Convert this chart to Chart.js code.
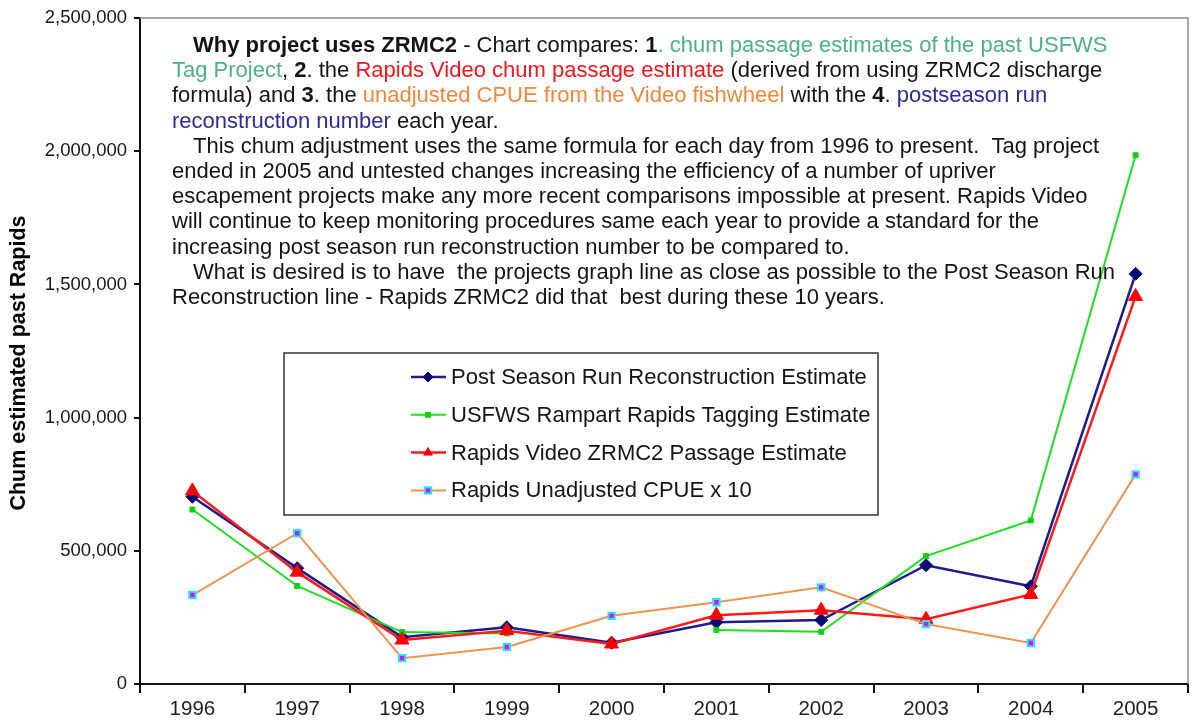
<!DOCTYPE html>
<html>
<head>
<meta charset="utf-8">
<script src="https://cdn.jsdelivr.net/npm/chart.js@4.4.1/dist/chart.umd.min.js"></script>
<style>
  body { margin: 0; background: #fff; }
  canvas { display: block; }
</style>
</head>
<body>
<canvas id="chumChart" width="1192" height="725"></canvas>
<script>
// chart values
var years = ['1996', '1997', '1998', '1999', '2000', '2001', '2002', '2003', '2004', '2005'];
var postSeason = [703000, 435000, 176000, 213000, 155000, 232000, 240000, 446000, 367000, 1540000];
var usfwsTagging = [655000, 368000, 195000, 190000, null, 203000, 196000, 480000, 614000, 1985000];
var videoZrmc2 = [725000, 420000, 165000, 200000, 150000, 258000, 277000, 243000, 336000, 1455000];
var cpueX10 = [334000, 566000, 97000, 139000, 256000, 307000, 363000, 225000, 154000, 787000];
var yMax = 2500000;
var yStep = 500000;

var seriesNames = [
    'Post Season Run Reconstruction Estimate',
    'USFWS Rampart Rapids Tagging Estimate',
    'Rapids Video ZRMC2 Passage Estimate',
    'Rapids Unadjusted CPUE x 10'
];
var yTitle = 'Chum estimated past Rapids';

// note text in the top of the plot, split in coloured runs
var noteColors = { '': '#141414', b: '#141414', g: '#4cb08a', r: '#f5141e', o: '#f0873a', n: '#2e2a9c' };
var noteLines = [
    [['Why project uses ZRMC2', 'b'], [' - Chart compares: ', ''], ['1', 'b'], ['. chum passage estimates of the past USFWS', 'g']],
    [['Tag Project', 'g'], [', ', ''], ['2', 'b'], ['. the ', ''], ['Rapids Video chum passage estimate', 'r'], [' (derived from using ZRMC2 discharge', '']],
    [['formula) and ', ''], ['3', 'b'], ['. the ', ''], ['unadjusted CPUE from the Video fishwheel', 'o'], [' with the ', ''], ['4', 'b'], ['. ', ''], ['postseason run', 'n']],
    [['reconstruction number', 'n'], [' each year.', '']],
    [['This chum adjustment uses the same formula for each day from 1996 to present.  Tag project', '']],
    [['ended in 2005 and untested changes increasing the efficiency of a number of upriver', '']],
    [['escapement projects make any more recent comparisons impossible at present. Rapids Video', '']],
    [['will continue to keep monitoring procedures same each year to provide a standard for the', '']],
    [['increasing post season run reconstruction number to be compared to.', '']],
    [['What is desired is to have  the projects graph line as close as possible to the Post Season Run', '']],
    [['Reconstruction line - Rapids ZRMC2 did that  best during these 10 years.', '']]
];
var indentedLines = [0, 4, 9];

var FONT = "'Liberation Sans', Arial, sans-serif";

var noteText = {
    id: 'noteText',
    afterDatasetsDraw: function (chart) {
        var ctx = chart.ctx;
        ctx.save();
        ctx.textBaseline = 'middle';
        ctx.textAlign = 'left';
        noteLines.forEach(function (runs, i) {
            var x = indentedLines.indexOf(i) >= 0 ? 193 : 172;
            var y = 46 + i * 25.2;
            runs.forEach(function (run) {
                ctx.font = (run[1] === 'b' ? 'bold ' : '') + '22px ' + FONT;
                ctx.fillStyle = noteColors[run[1]];
                ctx.fillText(run[0], x, y);
                x += ctx.measureText(run[0]).width;
            });
        });

        // rotated axis title
        ctx.translate(19, 363);
        ctx.rotate(-Math.PI / 2);
        ctx.textAlign = 'center';
        ctx.font = 'bold 21.5px ' + FONT;
        ctx.fillStyle = '#000';
        ctx.fillText(yTitle, 0, 0);
        ctx.restore();
    }
};

var boxLegend = {
    id: 'boxLegend',
    afterDraw: function (chart) {
        var ctx = chart.ctx;
        var area = chart.chartArea;
        ctx.save();
        // plot frame top and right
        ctx.strokeStyle = '#8c8c8c';
        ctx.lineWidth = 1.5;
        ctx.beginPath();
        ctx.moveTo(area.left, area.top);
        ctx.lineTo(area.right, area.top);
        ctx.lineTo(area.right, area.bottom);
        ctx.stroke();

        ctx.fillStyle = '#fff';
        ctx.fillRect(284, 353, 594, 162);
        ctx.strokeStyle = '#333';
        ctx.lineWidth = 1.5;
        ctx.strokeRect(284, 353, 594, 162);

        ctx.font = '22px ' + FONT;
        ctx.textBaseline = 'middle';
        chart.data.datasets.forEach(function (ds, i) {
            var y = 377 + i * 37.8;
            ctx.strokeStyle = ds.borderColor;
            ctx.lineWidth = ds.borderWidth;
            ctx.beginPath();
            ctx.moveTo(411, y);
            ctx.lineTo(446, y);
            ctx.stroke();
            ctx.fillStyle = ds.pointBackgroundColor;
            ctx.strokeStyle = ds.pointBorderColor;
            ctx.lineWidth = ds.pointBorderWidth;
            Chart.helpers.drawPoint(ctx, {
                pointStyle: ds.pointStyle,
                radius: Math.min(ds.pointRadius, 5),
                borderWidth: ds.pointBorderWidth,
                rotation: 0
            }, 428, y);
            ctx.fillStyle = '#141414';
            ctx.fillText(ds.label, 451, y + 1);
        });
        ctx.restore();
    }
};

function makeSeries(label, values, color, style, radius, width, fill, edge, order) {
    return {
        label: label,
        data: values,
        borderColor: color,
        borderWidth: width,
        pointStyle: style,
        pointRadius: radius,
        pointHoverRadius: radius,
        pointBackgroundColor: fill,
        pointBorderColor: edge,
        pointBorderWidth: style === 'rect' && fill !== edge ? 2 : 1,
        tension: 0,
        spanGaps: false,
        order: order
    };
}

var ctxChum = document.getElementById('chumChart').getContext('2d');
var chumChart = new Chart(ctxChum, {
    type: 'line',
    data: {
        labels: years,
        datasets: [
            makeSeries(seriesNames[0], postSeason, '#1c1c8c', 'rectRot', 6.5, 2.5, '#0a0a78', '#0a0a78', 3),
            makeSeries(seriesNames[1], usfwsTagging, '#1ee01e', 'rect', 3.5, 2, '#10d010', '#10d010', 2),
            makeSeries(seriesNames[2], videoZrmc2, '#ff1a1a', 'triangle', 8, 2.5, '#ff0000', '#ff0000', 1),
            makeSeries(seriesNames[3], cpueX10, '#ee9350', 'rect', 4.5, 2, '#e010e0', '#20e8f8', 0)
        ]
    },
    options: {
        responsive: false,
        animation: false,
        layout: { autoPadding: false, padding: { top: 17, right: 4, left: 0, bottom: 0 } },
        plugins: {
            legend: { display: false },
            tooltip: { enabled: false }
        },
        scales: {
            x: {
                offset: true,
                afterFit: function (scale) { scale.height = 41; },
                grid: {
                    offset: true,
                    drawOnChartArea: false,
                    drawTicks: true,
                    tickLength: 9,
                    color: '#111',
                    lineWidth: 2
                },
                border: { display: true, color: '#111', width: 2 },
                ticks: {
                    font: { family: FONT, size: 20.5 },
                    color: '#1e1e28',
                    padding: 4,
                    maxRotation: 0
                }
            },
            y: {
                min: 0,
                max: yMax,
                afterFit: function (scale) { scale.width = 140; },
                grid: {
                    drawOnChartArea: false,
                    drawTicks: true,
                    tickLength: 6,
                    color: '#111',
                    lineWidth: 2
                },
                border: { display: true, color: '#111', width: 2 },
                ticks: {
                    stepSize: yStep,
                    font: { family: FONT, size: 18.5 },
                    color: '#16161e',
                    padding: 7,
                    callback: function (v) { return v.toLocaleString('en-US'); }
                }
            }
        }
    },
    plugins: [noteText, boxLegend]
});
</script>
</body>
</html>
